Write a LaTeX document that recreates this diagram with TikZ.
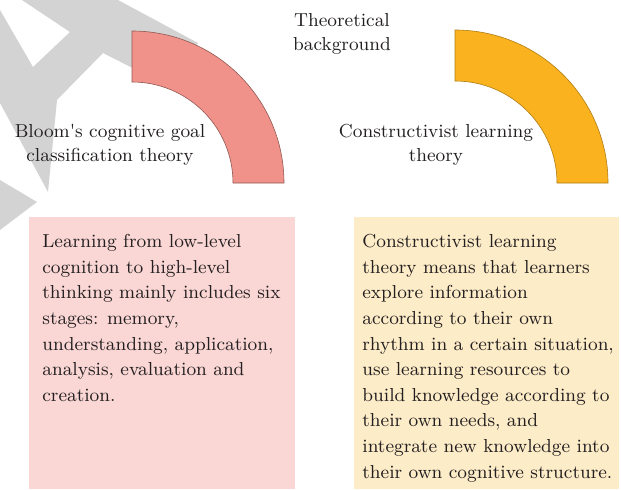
\documentclass[tikz,border=0pt]{standalone}
\usepackage{fontspec}
\usepackage{xcolor}
\usepackage{tikz}

\definecolor{bloomring}{HTML}{F0928A}
\definecolor{constring}{HTML}{FAB21E}
\definecolor{bloombox}{HTML}{FAD7D5}
\definecolor{constbox}{HTML}{FDECC8}
\definecolor{markgrey}{HTML}{D3D3D3}
\definecolor{inkgrey}{HTML}{231F20}

\tikzset{
    headtext/.style={align=center,inner sep=0pt,text=inkgrey,
        font=\fontsize{9.4}{12.2}\selectfont},
    boxtext/.style={align=left,anchor=north west,inner sep=0pt,text=inkgrey,
        font=\fontsize{9.4}{12.8}\selectfont},
    ringline/.style={line width=0.3pt}
}

\begin{document}
\begin{tikzpicture}[x=0.5pt,y=0.5pt]
                \useasboundingbox
                    (0,0) rectangle (621,489);
                % watermark
                \fill[markgrey]
                    (0,479) -- (33,422) -- (70,457) -- (22,489) -- (118,489) -- (198,446) -- (172,401)
                    -- (103,436) -- (57,389) -- (48,297) -- (0,386) -- cycle;
                \fill[markgrey]
                    (0,309) -- (37,287) -- (0,259) -- cycle;
                % quarter rings
                \filldraw[ringline,draw=bloomring!60!black,fill=bloomring]
                    (132,458) arc[start angle=90,end angle=0,radius=152] -- (233,306)
                    arc[start angle=0,end angle=90,radius=101] -- cycle;
                \filldraw[ringline,draw=constring!70!black,fill=constring]
                    (455,459) arc[start angle=90,end angle=0,radius=153] -- (557,306)
                    arc[start angle=0,end angle=90,radius=102] -- cycle;
                % boxes
                \fill[bloombox]
                    (29,0) rectangle (295,272);
                \fill[constbox]
                    (354,0) rectangle (619,272);
                \node[headtext] (background)
                    at (342,455) {Theoretical\\background};
                \node[headtext] (bloom)
                    at (110,344) {Bloom\textquotesingle s cognitive goal\\classification theory};
                \node[headtext] (constructivist)
                    at (436,344) {Constructivist learning\\theory};
                \node[boxtext] (bloomtext)
                    at (42,255) {Learning from low-level\\cognition to high-level\\thinking mainly includes six\\stages: memory,\\understanding, application,\\analysis, evaluation and\\creation.};
                \node[boxtext] (consttext)
                    at (362,255) {Constructivist learning\\theory means that learners\\explore information\\according to their own\\rhythm in a certain situation,\\use learning resources to\\build knowledge according to\\their own needs, and\\integrate new knowledge into\\their own cognitive structure.};
            \end{tikzpicture}
\end{document}
